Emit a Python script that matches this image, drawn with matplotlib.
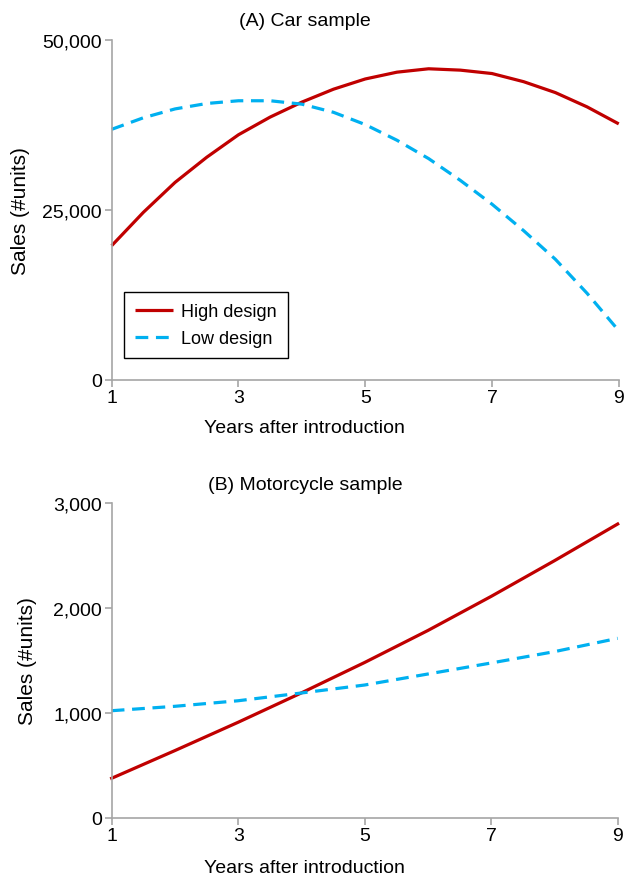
import matplotlib.pyplot as plt
from matplotlib.ticker import FuncFormatter

plt.rcParams['font.family'] = ['Liberation Sans', 'DejaVu Sans']

# panel A (car sample), read at half-year steps
car_years = [1, 1.5, 2, 2.5, 3, 3.5, 4, 4.5, 5, 5.5, 6, 6.5, 7, 7.5, 8, 8.5, 9]
car_high = [19700, 24600, 29000, 32700, 36000, 38600, 40800, 42700, 44200,
            45200, 45700, 45500, 45000, 43800, 42200, 40100, 37600]
car_low = [36800, 38500, 39800, 40600, 41000, 41000, 40500, 39300, 37500,
           35200, 32500, 29300, 25800, 21900, 17700, 12700, 7200]

# panel B (motorcycle sample)
moto_years = [1, 2, 3, 4, 5, 6, 7, 8, 9]
moto_high = [376, 640, 910, 1190, 1480, 1785, 2110, 2450, 2800]
moto_low = [1020, 1062, 1115, 1189, 1265, 1370, 1475, 1583, 1710]

red = '#c00000'
blue = '#00b0f0'
grey = '#a6a6a6'

fig = plt.figure(figsize=(6.25, 8.79), dpi=100)
ax1 = fig.add_axes([0.1787, 0.5669, 0.8113, 0.3870])
ax2 = fig.add_axes([0.1787, 0.0686, 0.8096, 0.3580])

fmt = FuncFormatter(lambda v, p: '{:,.0f}'.format(v))


def style(ax, ymax, yticks, xlab_y, ylab_x):
    ax.set_xlim(1, 9)
    ax.set_ylim(0, ymax)
    ax.set_xticks([1, 3, 5, 7, 9])
    ax.set_yticks(yticks)
    ax.yaxis.set_major_formatter(fmt)
    for s in ['top', 'right']:
        ax.spines[s].set_visible(False)
    for s in ['left', 'bottom']:
        ax.spines[s].set_color(grey)
        ax.spines[s].set_linewidth(1.2)
    ax.tick_params(colors=grey, labelcolor='black', labelsize=14,
                   length=5, width=1.2, pad=2)
    ax.set_xlabel('Years after introduction', fontsize=14)
    ax.set_ylabel('Sales (#units)', fontsize=15)
    ax.xaxis.set_label_coords(0.38, xlab_y)
    ax.yaxis.set_label_coords(ylab_x, 0.5)


ax1.plot(car_years, car_high, color=red, lw=2.3, label='High design',
         solid_capstyle='butt', solid_joinstyle='round', clip_on=False)
ax1.plot(car_years, car_low, color=blue, lw=2.3, label='Low design',
         dashes=(4, 2.4), clip_on=False)
style(ax1, 50000, [0, 25000, 50000], -0.116, -0.162)
leg = ax1.legend(loc='lower left', bbox_to_anchor=(0.025, 0.064),
                 borderaxespad=0, fancybox=False, framealpha=1,
                 edgecolor='black', fontsize=13, handlelength=2.1,
                 handletextpad=0.45, borderpad=0.6, labelspacing=0.55)
leg.get_frame().set_linewidth(1.0)

ax2.plot(moto_years, moto_high, color=red, lw=2.3, solid_joinstyle='round',
         clip_on=False)
ax2.plot(moto_years, moto_low, color=blue, lw=2.3, dashes=(4, 2.4),
         clip_on=False)
style(ax2, 3000, [0, 1000, 2000, 3000], -0.131, -0.148)

fig.text(0.488, 0.970, '(A) Car sample', fontsize=14,
         ha='center', va='baseline')
fig.text(0.488, 0.4425, '(B) Motorcycle sample', fontsize=14,
         ha='center', va='baseline')

fig.savefig('out.png', dpi=100)
